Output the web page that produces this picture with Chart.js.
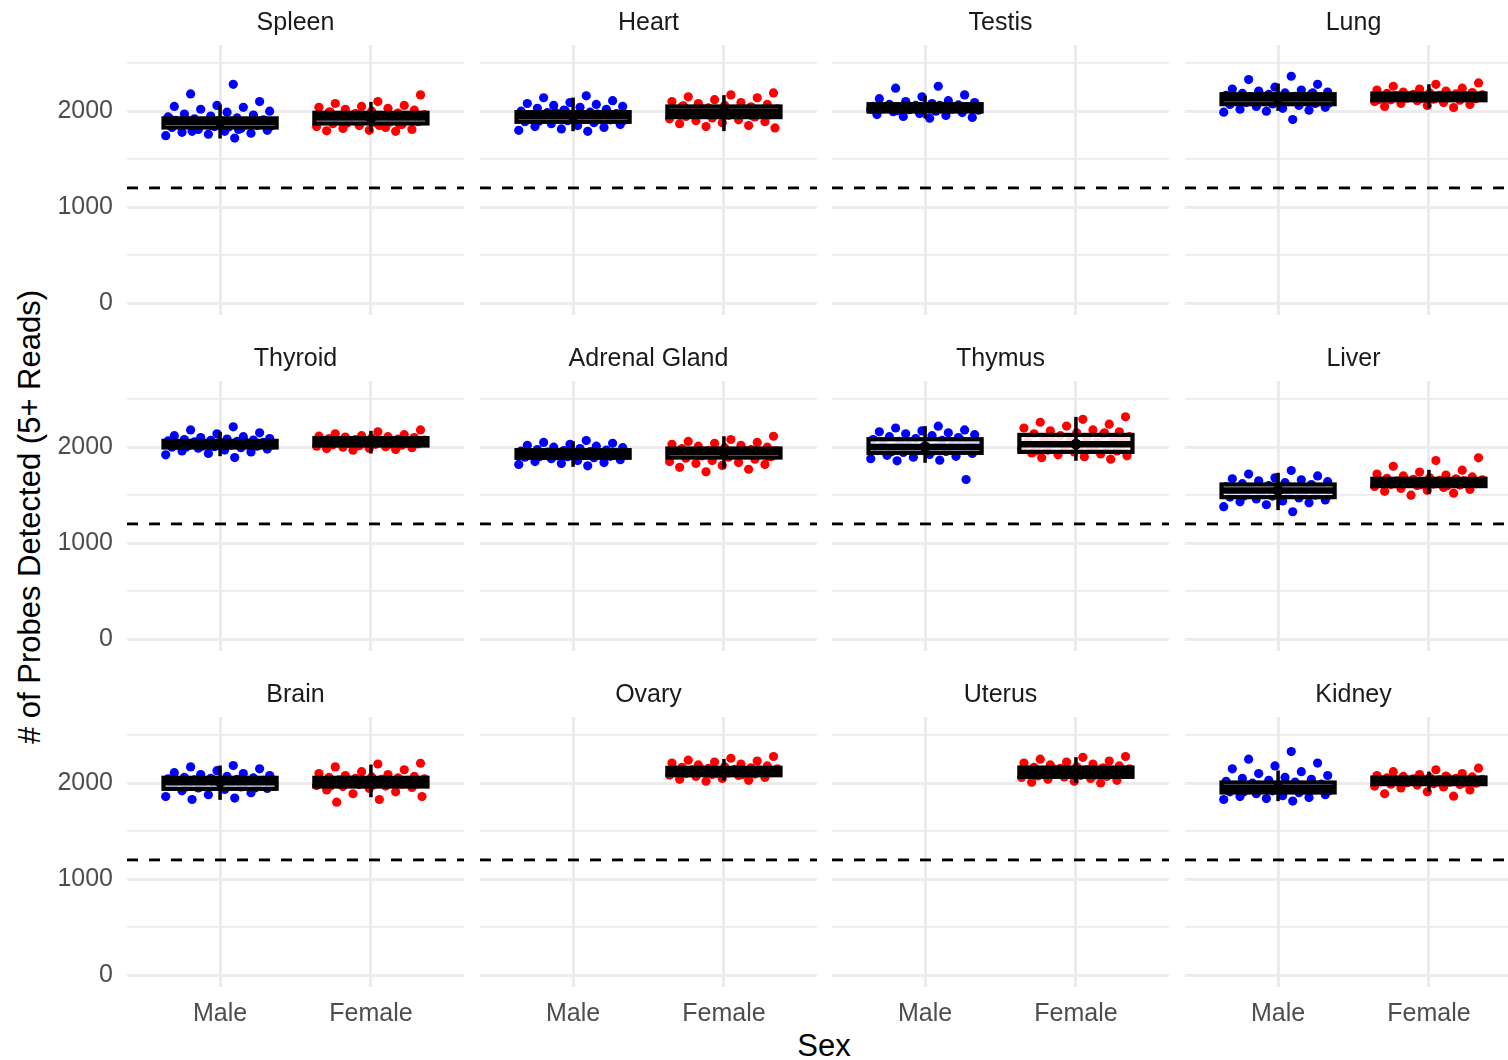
<!DOCTYPE html>
<html>
<head>
<meta charset="utf-8">
<title>Probes detected by tissue and sex</title>
<script src="https://cdn.jsdelivr.net/npm/chart.js@4.4.0/dist/chart.umd.min.js"></script>
<style>
  html, body { margin: 0; padding: 0; background: #fff; overflow: hidden; }
  #wrap { position: relative; width: 1508px; height: 1060px; overflow: hidden;
          font-family: "Liberation Sans", Arial, sans-serif; }
  #wrap canvas { position: absolute; }
  #ytitle { position: absolute; left: 30px; top: 517px; white-space: nowrap; font-size: 31px; color: #000;
            transform: translate(-50%, -50%) rotate(-90deg); }
  #xtitle { position: absolute; left: 824px; top: 1046px; font-size: 31px; color: #000;
            transform: translate(-50%, -50%); }
</style>
</head>
<body>
<div id="wrap">
  <div id="ytitle"># of Probes Detected (5+ Reads)</div>
  <div id="xtitle">Sex</div>
</div>
<script>
// facet order, left to right, top to bottom
const tissues = ['Spleen', 'Heart', 'Testis', 'Lung', 'Thyroid', 'Adrenal Gland', 'Thymus', 'Liver',
                 'Brain', 'Ovary', 'Uterus', 'Kidney'];
const sexes = ['Male', 'Female'];
const yTicks = [0, 500, 1000, 1500, 2000, 2500];
const detectionCutoff = 1200;

// probes with 5+ reads, one value per sample
const spleenMale = [2280, 2180, 2100, 2060, 2050, 2040, 2020, 2000, 1990, 1970, 1960, 1950, 1940, 1930, 1920, 1910, 1900, 1895, 1890, 1885, 1880, 1870, 1860, 1850, 1840, 1830, 1820, 1810, 1800, 1790, 1780, 1770, 1760, 1745, 1720, 1790, 1860, 1900, 1905, 1875, 1865, 1845, 1835, 1915, 1880, 1850, 1925, 1810];
const spleenFemale = [2170, 2100, 2080, 2060, 2050, 2040, 2030, 2020, 2010, 2000, 1990, 1980, 1975, 1965, 1955, 1945, 1935, 1930, 1920, 1910, 1900, 1890, 1880, 1870, 1860, 1850, 1840, 1830, 1820, 1810, 1800, 1795, 1790, 1950, 1900, 1850, 1940, 1925, 1915, 1960, 1885, 1875, 1970, 1905, 1990, 1865];
const heartMale = [2160, 2140, 2110, 2090, 2080, 2070, 2060, 2050, 2040, 2030, 2020, 2010, 2000, 1990, 1985, 1975, 1965, 1955, 1950, 1945, 1940, 1930, 1920, 1910, 1900, 1890, 1880, 1870, 1860, 1850, 1840, 1830, 1815, 1800, 1790, 1960, 1950, 1935, 1925, 1970, 1990, 1905, 1915, 1895, 1980, 2005];
const heartFemale = [2190, 2170, 2150, 2140, 2120, 2100, 2090, 2080, 2070, 2060, 2050, 2045, 2035, 2025, 2015, 2005, 2000, 1995, 1990, 1985, 1975, 1965, 1955, 1945, 1940, 1930, 1920, 1910, 1900, 1890, 1880, 1870, 1850, 1840, 1825, 2010, 2000, 1990, 2020, 1980, 1970, 2040, 1960, 2030, 2055, 1950];
const testisMale = [2260, 2240, 2170, 2150, 2130, 2110, 2100, 2090, 2080, 2070, 2065, 2060, 2050, 2045, 2040, 2035, 2030, 2025, 2020, 2015, 2010, 2000, 1995, 1985, 1975, 1965, 1955, 1945, 1935, 1927, 2050, 2040, 2030, 2020, 2060, 2005, 2045, 2010];
const lungMale = [2364, 2330, 2280, 2250, 2230, 2220, 2210, 2200, 2190, 2185, 2180, 2175, 2165, 2155, 2145, 2140, 2135, 2130, 2125, 2120, 2110, 2100, 2090, 2080, 2075, 2070, 2060, 2050, 2040, 2030, 2020, 2010, 2000, 1990, 1913, 2150, 2140, 2120, 2160, 2100, 2170, 2085, 2130, 2150, 2190, 2110];
const lungFemale = [2295, 2280, 2260, 2240, 2230, 2220, 2210, 2200, 2195, 2190, 2185, 2180, 2175, 2170, 2165, 2160, 2155, 2150, 2145, 2140, 2135, 2130, 2125, 2120, 2115, 2110, 2100, 2090, 2080, 2070, 2060, 2050, 2038, 2160, 2150, 2140, 2160, 2170, 2130, 2120, 2180, 2145];
const thyroidMale = [2212, 2180, 2150, 2140, 2120, 2110, 2100, 2090, 2085, 2080, 2075, 2070, 2065, 2060, 2055, 2050, 2045, 2040, 2035, 2030, 2025, 2020, 2015, 2010, 2005, 2000, 1995, 1990, 1980, 1970, 1960, 1950, 1935, 1920, 1892, 2040, 2030, 2045, 2020, 2060, 2010, 2050, 2035, 2000];
const thyroidFemale = [2180, 2160, 2140, 2130, 2120, 2115, 2110, 2105, 2100, 2095, 2090, 2085, 2080, 2075, 2070, 2065, 2060, 2055, 2050, 2045, 2040, 2035, 2030, 2025, 2020, 2015, 2010, 2005, 2000, 1995, 1990, 1985, 1975, 1969, 2060, 2050, 2070, 2040, 2080, 2055, 2030, 2065];
const adrenalMale = [2069, 2050, 2040, 2030, 2020, 2010, 2000, 1995, 1985, 1975, 1970, 1965, 1960, 1955, 1950, 1945, 1940, 1935, 1930, 1925, 1920, 1915, 1910, 1905, 1900, 1895, 1890, 1880, 1870, 1860, 1850, 1840, 1830, 1820, 1806, 1935, 1930, 1940, 1920, 1950, 1910, 1960, 1925, 1900];
const adrenalFemale = [2114, 2080, 2060, 2050, 2040, 2030, 2020, 2010, 2000, 1995, 1985, 1975, 1965, 1960, 1955, 1950, 1945, 1940, 1930, 1920, 1910, 1900, 1895, 1885, 1875, 1860, 1850, 1840, 1830, 1820, 1810, 1790, 1770, 1743, 1960, 1950, 1940, 1960, 1970, 1930, 1980, 1915, 1900];
const thymusMale = [2219, 2200, 2180, 2170, 2160, 2150, 2140, 2130, 2120, 2110, 2100, 2090, 2080, 2070, 2060, 2050, 2040, 2030, 2020, 2010, 2005, 2000, 1995, 1985, 1975, 1965, 1955, 1945, 1935, 1925, 1915, 1905, 1895, 1880, 1865, 1858, 1663, 2015, 2000, 1990, 2020, 2050, 1960, 1950, 2080, 1970];
const thymusFemale = [2316, 2290, 2260, 2240, 2220, 2200, 2180, 2170, 2160, 2150, 2140, 2130, 2120, 2110, 2100, 2090, 2080, 2070, 2060, 2050, 2040, 2030, 2025, 2020, 2010, 2000, 1990, 1980, 1970, 1960, 1950, 1940, 1930, 1920, 1910, 1900, 1890, 1875, 2030, 2020, 2000, 2060, 2100, 1980, 1960, 2150];
const liverMale = [1757, 1720, 1700, 1680, 1670, 1660, 1650, 1640, 1630, 1620, 1610, 1600, 1590, 1580, 1570, 1560, 1555, 1550, 1545, 1540, 1530, 1520, 1510, 1500, 1490, 1480, 1470, 1460, 1450, 1440, 1430, 1420, 1400, 1380, 1327, 1565, 1550, 1540, 1560, 1580, 1520, 1500, 1600, 1490];
const liverFemale = [1889, 1860, 1800, 1760, 1740, 1720, 1710, 1700, 1690, 1680, 1675, 1670, 1665, 1660, 1655, 1650, 1645, 1640, 1635, 1630, 1625, 1620, 1615, 1610, 1605, 1600, 1590, 1580, 1570, 1560, 1550, 1540, 1520, 1500, 1630, 1640, 1620, 1650, 1610, 1660, 1600, 1665];
const brainMale = [2184, 2170, 2150, 2130, 2110, 2100, 2090, 2080, 2070, 2060, 2055, 2050, 2045, 2040, 2035, 2030, 2025, 2020, 2015, 2010, 2005, 2000, 1995, 1990, 1980, 1970, 1960, 1950, 1945, 1935, 1920, 1900, 1880, 1860, 1845, 1830, 2020, 1990, 2010, 2000, 2030, 2050, 1980, 1960, 1950, 2040];
const brainFemale = [2208, 2200, 2170, 2140, 2120, 2100, 2090, 2080, 2070, 2065, 2060, 2055, 2050, 2045, 2040, 2035, 2030, 2025, 2020, 2015, 2010, 2005, 2000, 1995, 1990, 1985, 1975, 1970, 1965, 1955, 1945, 1930, 1910, 1890, 1860, 1830, 1802, 2020, 2010, 2000, 2030, 2050, 1990, 1980, 1970, 2040];
const ovaryFemale = [2278, 2260, 2240, 2230, 2220, 2210, 2200, 2190, 2180, 2170, 2165, 2160, 2155, 2150, 2145, 2140, 2135, 2130, 2125, 2120, 2115, 2110, 2105, 2100, 2095, 2090, 2085, 2080, 2070, 2060, 2050, 2040, 2030, 2021, 2120, 2130, 2110, 2140, 2100, 2150, 2090, 2160];
const uterusFemale = [2278, 2270, 2250, 2230, 2220, 2210, 2200, 2190, 2180, 2170, 2165, 2160, 2155, 2150, 2140, 2130, 2120, 2115, 2110, 2105, 2100, 2090, 2080, 2075, 2070, 2065, 2060, 2050, 2040, 2030, 2020, 2010, 2003, 2140, 2110, 2120, 2100, 2130, 2090, 2150, 2080, 2160];
const kidneyMale = [2330, 2250, 2210, 2180, 2150, 2120, 2100, 2080, 2060, 2050, 2040, 2030, 2020, 2010, 2000, 1990, 1980, 1970, 1960, 1955, 1950, 1945, 1940, 1930, 1920, 1910, 1900, 1890, 1880, 1870, 1860, 1850, 1840, 1830, 1813, 1960, 1950, 1940, 1960, 1930, 1970, 1920, 1990, 1910];
const kidneyFemale = [2156, 2140, 2120, 2100, 2090, 2080, 2075, 2070, 2065, 2060, 2055, 2050, 2045, 2040, 2035, 2030, 2025, 2020, 2015, 2010, 2005, 2000, 1995, 1990, 1985, 1980, 1970, 1960, 1950, 1930, 1910, 1890, 1865, 2020, 2030, 2010, 2040, 2000, 2050, 2025, 2060];

const maleCounts = [spleenMale, heartMale, testisMale, lungMale, thyroidMale, adrenalMale, thymusMale, liverMale,
                    brainMale, [], [], kidneyMale];
const femaleCounts = [spleenFemale, heartFemale, [], lungFemale, thyroidFemale, adrenalFemale, thymusFemale, liverFemale,
                      brainFemale, ovaryFemale, uterusFemale, kidneyFemale];

// box (q1 / median / q3) and summary range per tissue, null = no samples
const boxQ1Male = [1830, 1889, 1997, 2073, 1997, 1889, 1941, 1479, 1941, null, null, 1903];
const boxMedMale = [1890, 1948, 2035, 2132, 2031, 1930, 2003, 1549, 2010, null, null, 1951];
const boxQ3Male = [1925, 1990, 2073, 2177, 2066, 1969, 2083, 1611, 2056, null, null, 2007];
const rangeLoMale = [1715, 1792, 1924, 2003, 1906, 1795, 1837, 1344, 1826, null, null, 1813];
const rangeHiMale = [2070, 2142, 2160, 2288, 2160, 2062, 2219, 1733, 2184, null, null, 2132];
const boxQ1Female = [1872, 1938, null, 2114, 2017, 1892, 1951, 1594, 1965, 2083, 2066, 1990];
const boxMedFemale = [1934, 1993, null, 2149, 2055, 1951, 2031, 1629, 2010, 2121, 2115, 2024];
const boxQ3Female = [1983, 2049, null, 2184, 2094, 1986, 2128, 1670, 2056, 2160, 2163, 2059];
const rangeLoFemale = [1785, 1792, null, 2028, 1934, 1778, 1858, 1511, 1854, 2028, 2003, 1913];
const rangeHiFemale = [2097, 2167, null, 2281, 2170, 2114, 2316, 1764, 2194, 2253, 2271, 2121];

// layout of the facet grid
const PANEL_X0 = 127, PANEL_DX = 352.5, PANEL_W = 337;
const PANEL_Y0 = 45, PANEL_DY = 336, PANEL_H = 270;
const STRIP_H = 45, YAXIS_W = 127, XAXIS_H = 60;
const X_MIN = 0.383, X_MAX = 2.617;
const FONT = '"Liberation Sans", Arial, sans-serif';

Chart.defaults.font.family = FONT;

// spread points sideways like geom_jitter, but repeatable
function jitter(i) {
  return ((((i + 1) * 0.6180339887) % 1) - 0.5) * 0.74;
}

const boxPlugin = {
  id: 'boxes',
  afterDatasetsDraw(chart, args, opts) {
    const { ctx, scales: { x, y } } = chart;
    const t = opts.tissue;
    const groups = [
      [boxQ1Male[t], boxMedMale[t], boxQ3Male[t], rangeLoMale[t], rangeHiMale[t]],
      [boxQ1Female[t], boxMedFemale[t], boxQ3Female[t], rangeLoFemale[t], rangeHiFemale[t]]
    ];
    ctx.save();
    groups.forEach((g, k) => {
      if (g[0] == null) return;
      const cx = x.getPixelForValue(k + 1);
      const half = x.getPixelForValue(k + 1.375) - cx;
      const top = y.getPixelForValue(g[2]), bot = y.getPixelForValue(g[0]), med = y.getPixelForValue(g[1]);
      ctx.fillStyle = 'rgba(255,255,255,0.85)';
      ctx.fillRect(cx - half, top, half * 2, bot - top);
      ctx.strokeStyle = '#000';
      ctx.lineWidth = 4.2;
      ctx.strokeRect(cx - half, top, half * 2, bot - top);
      ctx.lineWidth = 6.5;
      ctx.beginPath();
      ctx.moveTo(cx - half, med);
      ctx.lineTo(cx + half, med);
      ctx.stroke();
      // summary range with centre dot
      ctx.lineWidth = 3.5;
      ctx.beginPath();
      ctx.moveTo(cx, y.getPixelForValue(g[3]));
      ctx.lineTo(cx, y.getPixelForValue(g[4]));
      ctx.stroke();
      ctx.fillStyle = '#000';
      ctx.beginPath();
      ctx.arc(cx, med, 5.5, 0, Math.PI * 2);
      ctx.fill();
    });
    ctx.restore();
  }
};

const wrap = document.getElementById('wrap');

tissues.forEach((name, t) => {
  const col = t % 4, row = Math.floor(t / 4);
  const left = col === 0, bottom = row === 2;
  const cv = document.createElement('canvas');
  const w = (left ? YAXIS_W : 0) + PANEL_W;
  const h = STRIP_H + PANEL_H + (bottom ? XAXIS_H : 0);
  cv.width = w; cv.height = h;
  cv.style.left = (PANEL_X0 + col * PANEL_DX - (left ? YAXIS_W : 0)) + 'px';
  cv.style.top = (PANEL_Y0 + row * PANEL_DY - STRIP_H) + 'px';
  wrap.appendChild(cv);

  const male = maleCounts[t].map((v, i) => ({ x: 1 + jitter(i), y: v }));
  const female = femaleCounts[t].map((v, i) => ({ x: 2 + jitter(i + 7), y: v }));

  new Chart(cv.getContext('2d'), {
    type: 'scatter',
    data: {
      datasets: [
        { data: male, backgroundColor: '#0000ff', borderWidth: 0, pointRadius: 4.6 },
        { data: female, backgroundColor: '#ff0000', borderWidth: 0, pointRadius: 4.6 },
        { type: 'line', data: [{ x: X_MIN, y: detectionCutoff }, { x: X_MAX, y: detectionCutoff }],
          borderColor: '#000', borderWidth: 2.8, borderDash: [11, 11], pointRadius: 0, fill: false }
      ]
    },
    options: {
      responsive: false,
      animation: false,
      events: [],
      layout: { padding: 0, autoPadding: false },
      plugins: {
        legend: { display: false },
        tooltip: { enabled: false },
        title: {
          display: true, text: name, fullSize: false, color: '#1a1a1a',
          font: { size: 25, weight: 'normal' }, padding: { top: 8, bottom: 7 }
        },
        boxes: { tissue: t }
      },
      scales: {
        x: {
          type: 'linear', min: X_MIN, max: X_MAX,
          afterBuildTicks: s => { s.ticks = sexes.map((_, i) => ({ value: i + 1 })); },
          afterFit: s => { s.height = bottom ? XAXIS_H : 0; s.paddingLeft = 0; s.paddingRight = 0; },
          grid: { color: '#ebebeb', lineWidth: 3, drawTicks: false },
          border: { display: false },
          ticks: {
            display: bottom, color: '#4d4d4d', font: { size: 25 }, padding: 12, maxRotation: 0,
            callback: v => sexes[v - 1]
          }
        },
        y: {
          min: -125, max: 2690,
          afterBuildTicks: s => { s.ticks = yTicks.map(v => ({ value: v })); },
          afterFit: s => { s.width = left ? YAXIS_W : 0; s.paddingTop = 0; s.paddingBottom = 0; },
          grid: {
            color: '#ebebeb', drawTicks: false,
            lineWidth: c => (c.tick && c.tick.value % 1000 === 0) ? 3 : 1.8
          },
          border: { display: false },
          ticks: {
            display: left, color: '#4d4d4d', font: { size: 25 }, padding: 14,
            callback: v => (v % 1000 === 0 ? String(v) : '')
          }
        }
      }
    },
    plugins: [boxPlugin]
  });
});
</script>
</body>
</html>
